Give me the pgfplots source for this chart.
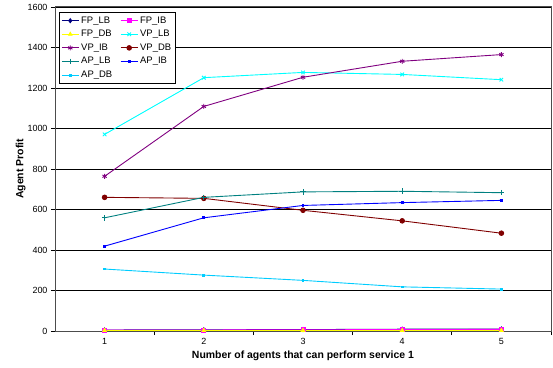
\documentclass[border=0pt]{standalone}
\usepackage{pgfplots}
\pgfplotsset{compat=1.18}
\usepackage{fontspec}
\setmainfont{Liberation Sans}

\definecolor{fplb}{RGB}{0,0,128}
\definecolor{fpib}{RGB}{255,0,255}
\definecolor{fpdb}{RGB}{255,255,0}
\definecolor{vplb}{RGB}{0,255,255}
\definecolor{vpib}{RGB}{128,0,128}
\definecolor{vpdb}{RGB}{128,0,0}
\definecolor{aplb}{RGB}{0,128,128}
\definecolor{apib}{RGB}{0,0,255}
\definecolor{apdb}{RGB}{0,204,255}

\begin{document}
\begin{tikzpicture}
\begin{axis}[
  scale only axis,
  width=496bp, height=324bp,
  xmin=0.5, xmax=5.5,
  ymin=0, ymax=1600,
  xtick={1,2,3,4,5},
  major x tick style={draw=none},
  minor xtick={1.5,2.5,3.5,4.5,5.5},
  ytick={0,200,...,1600},
  ymajorgrids,
  major grid style={black, line width=0.7pt},
  axis line style={gray!60!black, line width=1pt},
  tick align=outside,
  tick style={black, line width=0.7pt},
  major tick length=4bp, minor tick length=4bp,
  ytick pos=left, xtick pos=bottom,
  tick label style={font=\fontsize{9}{11}\selectfont},
  /pgf/number format/assume math mode=true,
  /pgf/number format/1000 sep={},
  xlabel={\textbf{Number of agents that can perform service 1}},
  ylabel={\textbf{Agent Profit}},
  label style={font=\fontsize{10.5}{12}\selectfont},
  xlabel style={yshift=1bp},
  ylabel style={yshift=-5bp},
  legend columns=2,
  legend cell align=left,
  legend style={at={(rel axis cs:0.008,0.985)}, anchor=north west,
    draw=black, line width=0.7pt, font=\fontsize{9.5}{11}\selectfont,
    inner xsep=2bp, inner ysep=2.5bp, row sep=1.6bp,
    /tikz/every even column/.append style={column sep=6bp}},
  legend image post style={line width=0.9pt},
  every axis plot/.append style={line width=0.9pt, mark size=2bp},
]
\addplot[fplb, mark=diamond*] coordinates {(1,5) (2,6) (3,7) (4,9) (5,10)};
\addlegendentry{FP\_LB}
\addplot[fpib, mark=square*] coordinates {(1,5) (2,5) (3,6) (4,7) (5,8)};
\addlegendentry{FP\_IB}
\addplot[fpdb, mark=triangle*] coordinates {(1,3) (2,3) (3,3) (4,3) (5,3)};
\addlegendentry{FP\_DB}
\addplot[vplb, mark=x, mark size=2.5bp] coordinates {(1,971) (2,1251) (3,1277) (4,1267) (5,1241)};
\addlegendentry{VP\_LB}
\addplot[vpib, mark=asterisk, mark size=2.5bp] coordinates {(1,764) (2,1109) (3,1253) (4,1332) (5,1365)};
\addlegendentry{VP\_IB}
\addplot[vpdb, mark=*, mark size=2.3bp] coordinates {(1,660) (2,655) (3,596) (4,544) (5,483)};
\addlegendentry{VP\_DB}
\addplot[aplb, mark=+, mark size=2.8bp] coordinates {(1,559) (2,660) (3,687) (4,690) (5,683)};
\addlegendentry{AP\_LB}
\addplot[apib, mark=square*, mark size=0.9bp] coordinates {(1,419) (2,559) (3,620) (4,634) (5,645)};
\addlegendentry{AP\_IB}
\addplot[apdb, mark=square*, mark size=0.9bp] coordinates {(1,306) (2,276) (3,250) (4,218) (5,207)};
\addlegendentry{AP\_DB}
\end{axis}
\path (current axis.south west) ++(-55bp,-37bp) coordinate (bbA);
\path (current axis.north east) ++(2bp,7bp) coordinate (bbB);
\pgfresetboundingbox
\path[use as bounding box] (bbA) rectangle (bbB);
\end{tikzpicture}
\end{document}
